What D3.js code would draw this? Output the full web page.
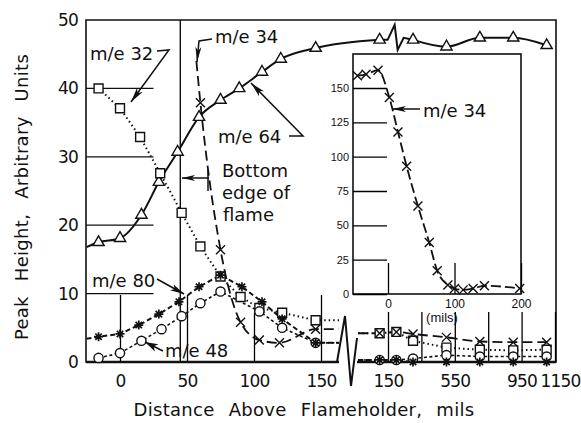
<!DOCTYPE html>
<html>
<head>
<meta charset="utf-8">
<script src="https://cdn.jsdelivr.net/npm/d3@7"></script>
<style>
body { margin: 0; background: #fff; }
text { font-family: "DejaVu Sans", sans-serif; fill: #111; }
</style>
</head>
<body>
<div id="chart"></div>
<script>
// ---- values ----
// main plot, near side of the axis break (mils)
var yTicks = [0, 10, 20, 30, 40, 50];
var gridTicks = [10, 20, 30, 40];
var nearTicks = [0, 50, 100, 150];
// far side of the break
var farTicks = [150, 350, 550, 750, 950, 1150];
var farLabels = [150, 550, 950, 1150];
var farMils = [100, 200, 300, 500, 700, 900, 1100];

var me64NearMils = [-25, -16, 0, 16, 29, 43, 59, 75, 89, 106, 120, 146];
var me64Near = [16.8, 17.5, 18.1, 21.5, 26.3, 30.7, 35.8, 38.3, 40.0, 42.4, 44.3, 45.9];
var me64FarMils = [100, 300, 500, 700, 900, 1100];
var me64Far = [47.1, 47.1, 46.1, 47.4, 47.4, 46.3];

var me32NearMils = [-16, 0, 15, 30, 46, 60, 75, 90, 104, 121, 146];
var me32Near = [40, 37.1, 32.9, 27.6, 21.8, 16.9, 12.5, 9.5, 7.9, 7.2, 6.1];
var me32Far = [4.2, 4.4, 3.1, 2.1, 1.8, 1.7, 1.8];

var me34NearMils = [57, 60, 75, 90, 104, 119, 146];
var me34Near = [44, 37.9, 16.4, 5.8, 3.2, 2.8, 4.8];
var me34Far = [4.2, 4.4, 4.1, 3.6, 3.0, 2.9, 2.9];

var me48NearMils = [-16, 0, 16, 31, 46, 60, 75, 104, 121, 146];
var me48Near = [0.6, 1.3, 3.1, 4.8, 6.7, 8.6, 10.3, 7.4, 5.0, 2.8];
var me48Far = [0.3, 0.3, 0.5, 1.0, 0.8, 0.8, 0.8];

var me80NearMils = [-25, -16, 0, 14, 29, 44, 59, 75, 91, 106, 121, 146];
var me80Near = [3.4, 3.7, 4.1, 5.4, 7.0, 8.8, 11.0, 12.7, 11.0, 8.8, 6.3, 2.8];
var me80Far = [0.3, 0.3, 0, 0, 0, 0, 0];

// inset: m/e 34 on its own scale
var insetYTicks = [0, 25, 50, 75, 100, 125, 150];
var insetXTicks = [0, 100, 200];
var insetMils = [-46, -33, -15, 2, 15, 28, 45, 62, 74, 90, 100, 113, 128, 145, 198];
var insetMe34 = [159, 160, 163, 143, 118, 93, 64, 37.5, 17, 6.5, 4, 3, 4, 6, 4];

// ---- drawing ----
var W = 581, H = 423;
var svg = d3.select("#chart").append("svg").attr("width", W).attr("height", H);
svg.append("rect").attr("width", W).attr("height", H).attr("fill", "#fff");

var pTop = 20, pBottom = 362, pLeft = 86, pRight = 556;
var breakL = 339, breakR = 357;

var y = d3.scaleLinear().domain([0, 50]).range([pBottom, pTop]);
var x1 = d3.scaleLinear().domain([0, 150]).range([120, 321]);
var x2 = d3.scaleLinear().domain([150, 1150]).range([388, 555]);

// partial grid lines and the flame edge line
svg.selectAll(".grid").data(gridTicks).enter().append("line")
  .attr("x1", pLeft).attr("x2", x1(25))
  .attr("y1", d => y(d)).attr("y2", d => y(d))
  .attr("stroke", "#111").attr("stroke-width", 1.3);
svg.append("line").attr("x1", x1(45)).attr("x2", x1(45)).attr("y1", pTop).attr("y2", pBottom)
  .attr("stroke", "#111").attr("stroke-width", 1.4);

// frame with the break in the bottom axis
svg.append("path")
  .attr("d", `M${breakL},${pBottom}L${pLeft},${pBottom}L${pLeft},${pTop}L${pRight},${pTop}L${pRight},${pBottom}L${breakR},${pBottom}`)
  .attr("fill", "none").attr("stroke", "#111").attr("stroke-width", 1.6);
svg.append("path").attr("d", `M${pLeft},${pBottom}L${breakL},${pBottom}M${breakR},${pBottom}L${pRight},${pBottom}`)
  .attr("stroke", "#111").attr("stroke-width", 2.4);
svg.append("path").attr("d", `M${breakL - 2},${pBottom}L345,316L351,386L${breakR},338`)
  .attr("fill", "none").attr("stroke", "#111").attr("stroke-width", 2);

// axes
var gy = svg.append("g").attr("transform", `translate(${pLeft},0)`)
  .call(d3.axisLeft(y).tickValues(yTicks).tickSize(0).tickPadding(8));
gy.select(".domain").remove();
gy.attr("font-size", 17);

var gx1 = svg.append("g").attr("transform", `translate(0,${pBottom})`)
  .call(d3.axisBottom(x1).tickValues(nearTicks).tickSizeInner(-67).tickSizeOuter(0).tickPadding(13));
gx1.select(".domain").remove();
gx1.selectAll(".tick line").attr("stroke-width", 1.3).filter(d => d === 100).attr("y2", -49);
gx1.attr("font-size", 17);

var gx2 = svg.append("g").attr("transform", `translate(0,${pBottom})`)
  .call(d3.axisBottom(x2).tickValues(farTicks).tickSizeInner(-50).tickSizeOuter(0).tickPadding(13)
    .tickFormat(d => farLabels.indexOf(d) >= 0 ? d : ""));
gx2.select(".domain").remove();
gx2.selectAll(".tick line").attr("stroke-width", 1.3);
gx2.attr("font-size", 17);
gx2.selectAll(".tick text").filter(d => d === 1150).attr("dx", 5);
svg.selectAll(".tick text").attr("letter-spacing", -0.8);

// series
var series = [
  {nx: me64NearMils, ny: me64Near, fx: me64FarMils, fy: me64Far, sym: "tri", dash: null, w: 2, bare: 1},
  {nx: me32NearMils, ny: me32Near, fx: farMils, fy: me32Far, sym: "sq", dash: "1.5,3", w: 2, bare: 0},
  {nx: me48NearMils, ny: me48Near, fx: farMils, fy: me48Far, sym: "ci", dash: "3,2.5", w: 1.6, bare: 0},
  {nx: me34NearMils, ny: me34Near, fx: farMils, fy: me34Far, sym: "x", dash: "10,5", w: 1.8, bare: 1},
  {nx: me80NearMils, ny: me80Near, fx: farMils, fy: me80Far, sym: "st", dash: "5,3", w: 2, bare: 1}
];

var lineG = svg.append("g"), markG = svg.append("g");

function drawMark(g, sym, px, py) {
  if (sym === "tri") {
    g.append("path").attr("d", d3.symbol(d3.symbolTriangle, 55)())
      .attr("transform", `translate(${px},${py})`).attr("fill", "#fff").attr("stroke", "#111").attr("stroke-width", 1.4);
  } else if (sym === "sq") {
    g.append("path").attr("d", d3.symbol(d3.symbolSquare, 80)())
      .attr("transform", `translate(${px},${py})`).attr("fill", "#fff").attr("stroke", "#111").attr("stroke-width", 1.4);
  } else if (sym === "ci") {
    g.append("circle").attr("cx", px).attr("cy", py).attr("r", 4.6)
      .attr("fill", "#fff").attr("stroke", "#111").attr("stroke-width", 1.4);
  } else if (sym === "x") {
    g.append("path").attr("d", "M-4.5,-4.5L4.5,4.5M-4.5,4.5L4.5,-4.5")
      .attr("transform", `translate(${px},${py})`).attr("stroke", "#111").attr("stroke-width", 1.4);
  } else {
    g.append("path").attr("d", "M-4.5,0L4.5,0M0,-4.5L0,4.5M-3.2,-3.2L3.2,3.2M-3.2,3.2L3.2,-3.2")
      .attr("transform", `translate(${px},${py})`).attr("stroke", "#111").attr("stroke-width", 1.7);
    g.append("circle").attr("cx", px).attr("cy", py).attr("r", 1.6).attr("fill", "#111");
  }
}

var linear = d3.line(), smooth = d3.line().curve(d3.curveMonotoneX);

series.forEach(function (s) {
  var near = s.nx.map((m, i) => [x1(m), y(s.ny[i])]);
  var far = s.fx.map((m, i) => [x2(m), y(s.fy[i])]);
  var style = p => p.attr("fill", "none").attr("stroke", "#111").attr("stroke-width", s.w)
    .attr("stroke-dasharray", s.dash);
  if (s.sym === "tri") {
    // m/e 64 runs on past the axis break, then has its own break mark
    var a = far[0];
    lineG.append("path").attr("d", smooth(near.concat([a]))).call(style);
    lineG.append("path").attr("d", linear([a, [a[0] + 8, a[1]], [a[0] + 15, a[1] - 15], [a[0] + 18, a[1] + 10], [a[0] + 24, a[1] - 2], far[1]]))
      .call(style);
    lineG.append("path").attr("d", smooth(far.slice(1))).call(style);
  } else {
    var c = s.sym === "x" ? smooth : linear;
    lineG.append("path").attr("d", c(near.concat([[breakL, near[near.length - 1][1]]]))).call(style);
    lineG.append("path").attr("d", c([[breakR + 1, far[0][1]]].concat(far))).call(style);
  }
  near.slice(s.bare).concat(far).forEach(p => drawMark(markG, s.sym, p[0], p[1]));
});

// inset
var ix = d3.scaleLinear().domain([0, 200]).range([388, 521]);
var iy = d3.scaleLinear().domain([0, 150]).range([294, 88]);
var inset = svg.append("g");
inset.append("rect").attr("x", 353).attr("y", 54).attr("width", 521 - 353).attr("height", 294 - 54)
  .attr("fill", "#fff").attr("stroke", "#111").attr("stroke-width", 1.6);
var iyAx = inset.append("g").attr("transform", "translate(353,0)")
  .call(d3.axisLeft(iy).tickValues(insetYTicks).tickSizeInner(-34).tickSizeOuter(0).tickPadding(4));
iyAx.select(".domain").remove();
iyAx.attr("font-size", 11);
var ixAx = inset.append("g").attr("transform", "translate(0,294)")
  .call(d3.axisBottom(ix).tickValues(insetXTicks).tickSizeInner(-31).tickSizeOuter(0).tickPadding(5));
ixAx.select(".domain").remove();
ixAx.attr("font-size", 12);
inset.selectAll(".tick line").attr("stroke-width", 1.3);
inset.selectAll(".tick text").style("font-family", "Liberation Sans");
inset.append("path")
  .attr("d", smooth(insetMils.map((m, i) => [ix(m), iy(insetMe34[i])])))
  .attr("fill", "none").attr("stroke", "#111").attr("stroke-width", 1.8).attr("stroke-dasharray", "10,4");
insetMils.forEach((m, i) => drawMark(inset, "x", ix(m), iy(insetMe34[i])));
inset.append("text").attr("x", 442).attr("y", 322).attr("text-anchor", "middle")
  .attr("font-size", 13).style("font-family", "Liberation Sans").text("(mils)");

// annotations
function arrow(pts, len, wid) {
  svg.append("path").attr("d", linear(pts)).attr("fill", "none").attr("stroke", "#111").attr("stroke-width", 1.5);
  var a = pts[pts.length - 2], b = pts[pts.length - 1];
  var dx = b[0] - a[0], dy = b[1] - a[1], L = Math.hypot(dx, dy), ux = dx / L, uy = dy / L;
  var bx = b[0] - ux * len, by = b[1] - uy * len;
  svg.append("path")
    .attr("d", `M${b[0]},${b[1]}L${bx - uy * wid / 2},${by + ux * wid / 2}L${b[0] - ux * len * 0.75},${b[1] - uy * len * 0.75}L${bx + uy * wid / 2},${by - ux * wid / 2}Z`)
    .attr("fill", "#111");
}
function label(x, yy, t, size) {
  svg.append("text").attr("x", x).attr("y", yy).attr("font-size", size || 18).text(t);
}

label(90, 60, "m/e 32");
arrow([[157, 51], [169, 50], [131, 102]], 15, 7);
label(215, 43, "m/e 34");
arrow([[212, 39], [199, 41], [197, 62]], 15, 6);
label(218, 143, "m/e 64");
arrow([[289, 136], [303, 136], [251, 83]], 15, 7);
label(222, 177, "Bottom");
label(222, 199, "edge of");
label(223, 221, "flame");
arrow([[209, 178], [182, 178]], 13, 6);
svg.append("line").attr("x1", 208).attr("x2", 208).attr("y1", 170).attr("y2", 191)
  .attr("stroke", "#111").attr("stroke-width", 1.5);
label(92, 287, "m/e 80");
arrow([[157, 279], [184, 294]], 14, 7);
label(165, 357, "m/e 48");
arrow([[163, 351], [145, 342]], 13, 8);
label(423, 117, "m/e 34");
arrow([[420, 109], [392, 109]], 14, 6);

// axis titles
svg.append("text").attr("transform", "translate(28,197) rotate(-90)")
  .attr("text-anchor", "middle").attr("font-size", 18)
  .attr("letter-spacing", 0.3).attr("word-spacing", 9)
  .text("Peak Height, Arbitrary Units");
svg.append("text").attr("x", 304).attr("y", 416)
  .attr("text-anchor", "middle").attr("font-size", 18)
  .attr("letter-spacing", 0.3).attr("word-spacing", 8)
  .text("Distance Above Flameholder, mils");
</script>
</body>
</html>
